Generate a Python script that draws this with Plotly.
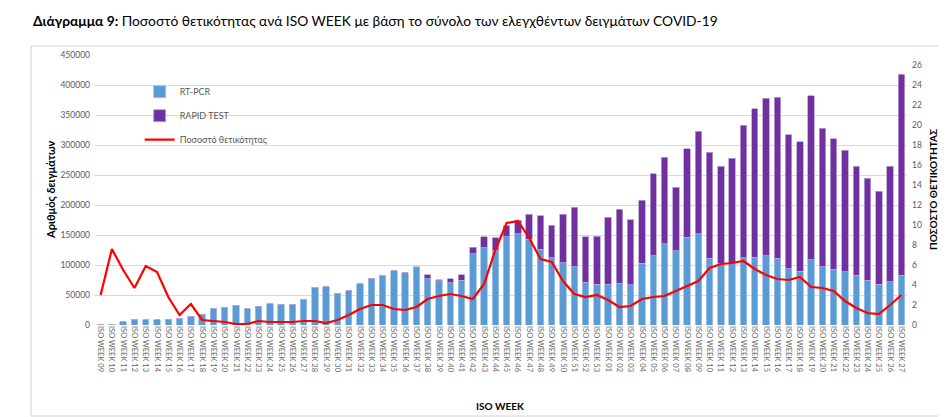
import plotly.graph_objects as go

weeks_2020 = [f"ISO WEEK {w:02d}" for w in range(9, 54)]
weeks_2021 = [f"ISO WEEK {w:02d}" for w in range(1, 28)]
categories = weeks_2020 + weeks_2021
cat_ids = list(range(len(categories)))

rt_pcr = [600, 1500, 5500, 10000, 8800, 8800, 10000, 11000, 14400, 18300,
          26700, 30000, 33300, 26700, 31100, 35600, 34400, 34400, 43300, 63300,
          63900, 53300, 56700, 68900, 78300, 81700, 90600, 87200, 95500, 77200,
          73900, 70600, 75000, 118900, 128900, 125000, 147200, 152000, 143000, 126100,
          111700, 104000, 97200, 71400, 67800,
          67800, 69400, 66700, 103300, 115600, 135600, 123900, 146100, 152200, 111100,
          101700, 101700, 112200, 113300, 115600, 111100, 93900, 89400, 108900, 97200,
          92800, 88900, 82800, 74400, 67800, 72200, 82800]

rapid = [0] * 28 + [1500, 6700, 1700, 6100, 8900, 10500, 18300, 20600, 18100, 22500,
                    42000, 56100, 54700, 80200, 98900, 75800, 80500,
                    112200, 123400, 108900, 105000, 136100, 144400, 105500, 147800, 170600, 177200,
                    162700, 176100, 220600, 247300, 262200, 268300, 223300, 216200, 272800, 230600,
                    217800, 202200, 182200, 170000, 155500, 192200, 335500]

positivity = [3.0, 7.6, 5.5, 3.7, 5.9, 5.3, 2.8, 1.0, 2.1, 0.5,
              0.4, 0.3, 0.1, 0.1, 0.4, 0.3, 0.3, 0.3, 0.4, 0.4,
              0.2, 0.5, 1.0, 1.6, 2.0, 2.0, 1.6, 1.5, 1.8, 2.6,
              2.9, 3.1, 2.9, 2.6, 4.1, 7.5, 10.2, 10.4, 8.7, 6.6,
              6.3, 4.4, 3.1, 2.8, 3.0,
              2.5, 1.8, 1.9, 2.6, 2.8, 2.9, 3.4, 3.9, 4.4, 5.7,
              6.1, 6.2, 6.4, 5.6, 5.0, 4.6, 4.5, 4.8, 3.8, 3.7,
              3.4, 2.4, 1.7, 1.2, 1.1, 2.0, 3.0]

left_ticks = [0, 50000, 100000, 150000, 200000, 250000, 300000, 350000, 400000, 450000]
right_ticks = list(range(0, 27, 2))

FONT = "Lato"
GREY = "#595959"
W, H = 938, 409  # page body has an 8px margin

fig = go.Figure()
fig.add_trace(go.Bar(x=cat_ids, y=rt_pcr, name="RT-PCR", width=0.57,
                     marker=dict(color="#5B9BD5", line=dict(color="#9DC3E6", width=0.8)),
                     legendgroup="a"))
fig.add_trace(go.Bar(x=cat_ids, y=rapid, name="RAPID TEST", width=0.57,
                     marker=dict(color="#7030A0", line=dict(color="#B9A3D3", width=0.8)),
                     legendgroup="b"))
fig.add_trace(go.Scatter(x=cat_ids, y=positivity, name="Ποσοστό θετικότητας", yaxis="y2",
                         mode="lines", line=dict(color="#FF0000", width=2.2),
                         legendgroup="c"))

fig.update_layout(
    width=W, height=H,
    margin=dict(l=87, r=39, t=47, b=92, autoexpand=False),
    barmode="stack",
    plot_bgcolor="white", paper_bgcolor="white",
    font=dict(family=FONT, color=GREY, size=9),
    title=dict(text="<b>Διάγραμμα 9:</b> Ποσοστό θετικότητας ανά ISO WEEK με βάση το σύνολο των ελεγχθέντων δειγμάτων COVID-19",
               xref="container", yref="container", x=25 / W, xanchor="left",
               y=1 - 13 / H, yanchor="middle",
               font=dict(family=FONT, size=13.8, color="#000000")),
    xaxis=dict(tickmode="array", tickvals=cat_ids, ticktext=categories, tickangle=90,
               range=[-0.5, len(cat_ids) - 0.5], showgrid=False, showline=False,
               ticks="", tickfont=dict(size=7.5, color="#666666"), automargin=False),
    yaxis=dict(range=[0, 450000], tickvals=left_ticks, ticktext=[str(t) for t in left_ticks],
               showgrid=True, gridcolor="#D9D9D9", gridwidth=1, zeroline=False,
               ticks="", tickfont=dict(size=8.5, color=GREY), ticklabelstandoff=4,
               automargin=False),
    yaxis2=dict(range=[0, 27], tickvals=right_ticks, overlaying="y", side="right",
                showgrid=False, zeroline=False, ticks="",
                tickfont=dict(size=8.5, color=GREY), ticklabelstandoff=4, automargin=False),
    legend=dict(x=0.055, y=0.918, xanchor="left", yanchor="top", bgcolor="rgba(0,0,0,0)",
                font=dict(size=9, color=GREY), tracegroupgap=5, traceorder="grouped",
                itemwidth=30),
    showlegend=True,
)

fig.add_annotation(text="<b>Αριθμός δειγμάτων</b>", textangle=-90, xref="paper", yref="paper",
                   x=(50 - 95) / 812, y=(325 - 190) / 270, xanchor="center", yanchor="middle",
                   showarrow=False, font=dict(family=FONT, size=11, color="#000000"))
fig.add_annotation(text="<b>ΠΟΣΟΣΤΟ ΘΕΤΙΚΟΤΗΤΑΣ</b>", textangle=-90, xref="paper", yref="paper",
                   x=(933 - 95) / 812, y=(325 - 190) / 270, xanchor="center", yanchor="middle",
                   showarrow=False, font=dict(family=FONT, size=10, color="#000000"))
fig.add_annotation(text="<b>ISO WEEK</b>", xref="paper", yref="paper",
                   x=(500 - 95) / 812, y=(325 - 406) / 270, xanchor="center", yanchor="middle",
                   showarrow=False, font=dict(family=FONT, size=10, color="#000000"))

fig.add_shape(type="rect", xref="paper", yref="paper",
              x0=(31 - 95) / 812, x1=(945 - 95) / 812, y0=(325 - 416) / 270, y1=(325 - 46) / 270,
              line=dict(color="#D0D0D0", width=1), fillcolor="rgba(0,0,0,0)", layer="above")

fig.write_html("out.html")
